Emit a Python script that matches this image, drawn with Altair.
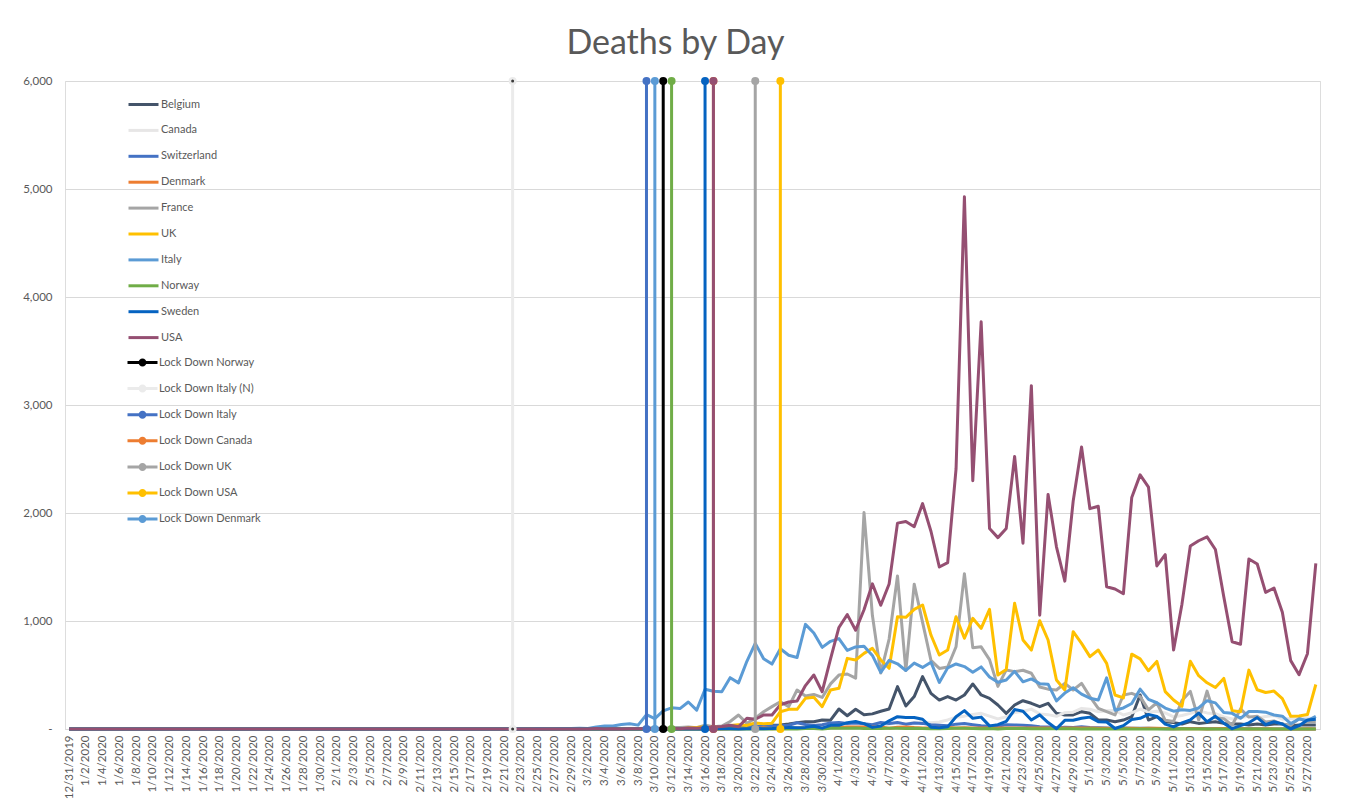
import altair as alt
import pandas as pd

START = "2019-12-31"
N_DAYS = 150
FONT = "Lato"
TXT = "#595959"

countries = ["Belgium", "Canada", "Switzerland", "Denmark", "France",
             "UK", "Italy", "Norway", "Sweden", "USA"]
country_colors = ["#44546A", "#E7E6E6", "#4472C4", "#ED7D31", "#A5A5A5",
                  "#FFC000", "#5B9BD5", "#70AD47", "#0563C1", "#954F72"]

# daily deaths, 1 Mar .. 28 May (Italy also 22-29 Feb); zero before
italy_feb = [1, 2, 1, 4, 3, 2, 5, 4]

belgium_mar = [0,0,0,0,0,0,0,0,0,0,3,0,0,1,1,0,1,4,4,7,16,30,13,34,37,46,59,68,68,83,82]
belgium_apr = [185,123,183,132,140,164,185,392,213,300,485,330,268,300,268,315,417,315,284,222,145,222,262,238,207,238,145,130,130,160]
belgium_may = [145,83,83,68,83,114,315,83,114,68,59,46,68,52,59,68,52,46,46,37,46,37,46,46,28,37,37,37]

canada_mar = [0,0,0,0,0,0,0,0,1,0,0,0,0,0,0,0,4,3,1,2,2,5,3,5,5,8,6,6,14,6,13]
canada_apr = [14,24,18,27,29,26,46,57,47,60,62,57,65,84,109,119,134,145,119,94,113,153,162,184,140,133,117,151,156,191]
canada_may = [183,160,168,171,130,150,185,156,164,149,113,125,145,167,149,141,111,93,103,121,101,115,126,91,97,95,104,91]

swiss_mar = [0,0,0,0,1,0,0,0,0,1,2,1,4,2,3,1,8,5,10,15,18,24,24,30,30,35,58,41,33,40,56]
swiss_apr = [60,50,55,48,40,60,50,60,45,55,52,40,35,30,45,50,40,30,25,28,40,38,35,30,20,18,10,17,15,20]
swiss_may = [14,12,9,5,10,8,7,6,5,3,2,4,5,4,3,2,2,1,3,2,2,1,1,1,0,1,1,1]

denmark_mar = [0,0,0,0,0,0,0,0,0,0,0,0,0,1,0,0,2,1,2,3,4,4,11,2,7,8,10,11,13,7,13]
denmark_apr = [14,19,19,19,18,18,8,16,19,13,10,10,13,14,10,12,10,9,9,9,9,9,9,10,10,10,9,9,9,9]
denmark_may = [9,7,7,4,6,7,4,6,7,4,3,2,3,3,1,3,4,2,2,0,1,3,1,1,0,1,2,1]

france_mar = [1,0,1,1,0,2,3,2,9,11,3,15,13,18,12,36,21,27,69,130,52,100,160,207,253,207,361,305,320,292,418]
france_apr = [499,509,471,2004,1053,518,833,1417,541,1341,987,635,561,574,762,1438,753,761,642,395,547,531,544,516,389,369,361,423,361,423]
france_may = [300,191,160,130,315,330,300,178,243,80,70,263,348,83,351,104,96,35,186,110,117,65,74,43,35,98,66,66]

uk_mar = [0,0,0,0,1,1,0,1,0,3,0,2,1,10,14,20,0,16,33,40,33,56,48,54,160,182,182,284,293,207,361]
uk_apr = [377,654,639,700,747,639,562,1040,1034,1108,1148,870,685,731,1040,840,1025,932,1108,500,552,1164,824,731,1003,824,454,361,901,793]
uk_may = [670,731,608,315,288,693,649,539,626,346,268,210,627,494,428,384,468,170,160,545,363,338,351,282,118,121,134,412]

italy_mar = [8,5,18,27,28,41,49,36,133,97,168,196,189,250,175,368,349,345,475,427,627,793,651,601,743,683,662,969,889,756,812]
italy_apr = [837,727,760,766,681,525,636,604,542,610,570,619,431,566,602,578,525,575,482,433,454,534,437,464,420,415,260,333,382,323]
italy_may = [285,269,474,174,195,236,369,274,243,194,165,179,172,195,262,242,153,145,99,162,161,156,130,119,50,92,78,117]

norway_mar = [0,0,0,0,0,0,0,0,0,0,0,0,1,0,1,1,0,1,2,1,0,1,0,3,1,2,0,4,4,0,7]
norway_apr = [6,6,9,4,6,5,7,8,5,7,5,3,3,5,7,6,5,3,5,1,5,4,4,3,2,2,2,2,3,1]
norway_may = [2,1,0,1,2,1,1,0,1,0,1,2,1,0,1,1,0,0,1,0,1,0,1,0,0,0,1,0]

sweden_mar = [0,0,0,0,0,0,0,0,0,0,1,0,0,1,0,1,3,2,3,1,3,5,3,4,7,15,11,15,26,8,34]
sweden_apr = [34,59,69,50,15,28,76,114,106,106,90,17,12,20,114,170,99,110,29,40,70,180,165,84,131,60,2,80,81,100]
sweden_may = [110,68,65,5,31,88,99,135,117,45,19,57,85,147,67,117,54,3,31,57,106,40,67,46,0,31,84,90]

usa_mar = [1,1,4,1,2,1,2,3,4,4,3,7,2,10,7,12,18,23,35,20,100,90,130,130,225,250,260,402,500,345,650]
usa_apr = [940,1059,915,1104,1344,1146,1342,1906,1922,1873,2087,1831,1500,1541,2408,4928,2299,3770,1856,1772,1857,2524,1721,3179,1054,2172,1687,1369,2110,2611]
usa_may = [2040,2062,1317,1297,1252,2144,2353,2239,1510,1614,731,1156,1694,1743,1779,1662,1224,808,785,1574,1528,1265,1305,1081,633,503,697,1533]

pre_march = [0] * 61
series = {
    "Belgium": pre_march + belgium_mar + belgium_apr + belgium_may,
    "Canada": pre_march + canada_mar + canada_apr + canada_may,
    "Switzerland": pre_march + swiss_mar + swiss_apr + swiss_may,
    "Denmark": pre_march + denmark_mar + denmark_apr + denmark_may,
    "France": pre_march + france_mar + france_apr + france_may,
    "UK": pre_march + uk_mar + uk_apr + uk_may,
    "Italy": [0] * 53 + italy_feb + italy_mar + italy_apr + italy_may,
    "Norway": pre_march + norway_mar + norway_apr + norway_may,
    "Sweden": pre_march + sweden_mar + sweden_apr + sweden_may,
    "USA": pre_march + usa_mar + usa_apr + usa_may,
}

# lockdown markers (the last three are not named in the legend)
ld_names = ["Lock Down Norway", "Lock Down Italy (N)", "Lock Down Italy", "Lock Down Canada",
            "Lock Down UK", "Lock Down USA", "Lock Down Denmark",
            "Lock Down (green)", "Lock Down (blue)", "Lock Down (purple)"]
ld_dates = ["2020-03-11", "2020-02-22", "2020-03-09", "2020-03-17",
            "2020-03-22", "2020-03-25", "2020-03-10",
            "2020-03-12", "2020-03-16", "2020-03-17"]
ld_colors = ["#000000", "#EBEBEB", "#4472C4", "#ED7D31",
             "#A5A5A5", "#FFC000", "#5B9BD5",
             "#70AD47", "#0563C1", "#954F72"]
ld_legend = ld_names[:7]
ld_draw_order = ["Lock Down Italy (N)", "Lock Down Italy", "Lock Down Denmark", "Lock Down Norway",
                 "Lock Down (green)", "Lock Down (blue)", "Lock Down Canada", "Lock Down (purple)",
                 "Lock Down UK", "Lock Down USA"]
LD_LOW, LD_HIGH = 0, 6000

def ms(s):
    return int(pd.Timestamp(s).value // 10**6)

day0 = pd.Timestamp(START)
dates_ms = [int((day0 + pd.Timedelta(days=i)).value // 10**6) for i in range(N_DAYS)]

rows = []
for c in countries:
    vals = series[c]
    assert len(vals) == N_DAYS, (c, len(vals))
    for d, v in zip(dates_ms, vals):
        rows.append({"date": d, "country": c, "deaths": v})
df = pd.DataFrame(rows)

ld_map = dict(zip(ld_names, ld_dates))
ld_rules = pd.DataFrame([{"name": n, "date": ms(ld_map[n]), "y0": LD_LOW, "y1": LD_HIGH}
                         for n in ld_draw_order])
ld_points = pd.DataFrame([{"name": n, "date": ms(ld_map[n]), "v": v}
                          for n in ld_draw_order for v in (LD_LOW, LD_HIGH)])

tick_ms = dates_ms[::2]
x_domain = [ms("2019-12-30 12:00"), ms("2020-05-28 12:00")]

xscale = alt.Scale(type="utc", domain=x_domain, nice=False)
yscale = alt.Scale(domain=[0, 6000], nice=False, zero=True)

def xaxis():
    return alt.Axis(values=tick_ms, labelExpr="utcFormat(datum.value, '%-m/%-d/%Y')",
                    labelAngle=270, labelOverlap=False, labelFontSize=11.5, labelFont=FONT,
                    labelColor=TXT, labelPadding=6, grid=False, ticks=False,
                    domainColor="#D9D9D9", title=None)

def yaxis():
    return alt.Axis(values=[0, 1000, 2000, 3000, 4000, 5000, 6000],
                    labelExpr="datum.value == 0 ? '-\u00a0\u00a0' : format(datum.value, ',')",
                    grid=True, gridColor="#D9D9D9", gridWidth=1, domain=False, ticks=False,
                    labelFontSize=11.5, labelFont=FONT, labelColor=TXT, labelPadding=13,
                    labelAlign="right", title=None)

lines = alt.Chart(df).mark_line(strokeWidth=3, strokeJoin="round").encode(
    x=alt.X("date:T", scale=xscale, axis=xaxis()),
    y=alt.Y("deaths:Q", scale=yscale, axis=yaxis()),
    color=alt.Color("country:N", sort=countries,
                    scale=alt.Scale(domain=countries, range=country_colors),
                    legend=alt.Legend(title=None, orient="none", legendX=72, legendY=17,
                                      symbolType="M-3,0H3", symbolSize=100, symbolStrokeWidth=3,
                                      labelFont=FONT, labelFontSize=11, labelColor=TXT,
                                      labelOffset=11, rowPadding=12.9, padding=0)),
)

rules = alt.Chart(ld_rules).mark_rule(strokeWidth=3).encode(
    x=alt.X("date:T", scale=xscale, axis=xaxis()),
    y=alt.Y("y0:Q", scale=yscale, axis=yaxis()),
    y2="y1:Q",
    stroke=alt.Stroke("name:N", scale=alt.Scale(domain=ld_names, range=ld_colors), legend=None),
)

points = alt.Chart(ld_points).mark_circle(size=64, opacity=1).encode(
    x=alt.X("date:T", scale=xscale, axis=xaxis()),
    y=alt.Y("v:Q", scale=yscale, axis=yaxis()),
    fill=alt.Fill("name:N", scale=alt.Scale(domain=ld_names, range=ld_colors),
                  legend=alt.Legend(title=None, orient="none", legendX=72, legendY=276,
                                    values=ld_legend,
                                    symbolType="M-3,-0.3H3V0.3H-3Z M-0.8,0A0.8,0.8 0 1,1 0.8,0A0.8,0.8 0 1,1 -0.8,0Z",
                                    symbolSize=100, symbolStrokeWidth=0, symbolOpacity=1,
                                    labelFont=FONT, labelFontSize=11, labelColor=TXT,
                                    labelOffset=11, rowPadding=14.1, padding=0)),
)

dots = alt.Chart(ld_points).transform_filter(
    alt.datum.name == "Lock Down Italy (N)"
).mark_circle(size=9, opacity=1, color="#3A3A3A").encode(
    x=alt.X("date:T", scale=xscale, axis=xaxis()),
    y=alt.Y("v:Q", scale=yscale, axis=yaxis()),
)

chart = alt.layer(lines, rules, points, dots).resolve_scale(
    color="independent", stroke="independent", fill="independent"
).properties(
    width=1255, height=648,
    title=alt.Title("Deaths by Day", fontSize=34, font=FONT, color=TXT, fontWeight="normal",
                    anchor="middle", dx=-17, offset=14),
    autosize=alt.AutoSizeParams(type="none"),
    padding={"left": 57, "top": 73, "right": 20, "bottom": 77},
).configure_view(strokeWidth=0, stroke="transparent").configure(font=FONT)

chart.save("out.html", embed_options={"renderer": "svg", "actions": False})
